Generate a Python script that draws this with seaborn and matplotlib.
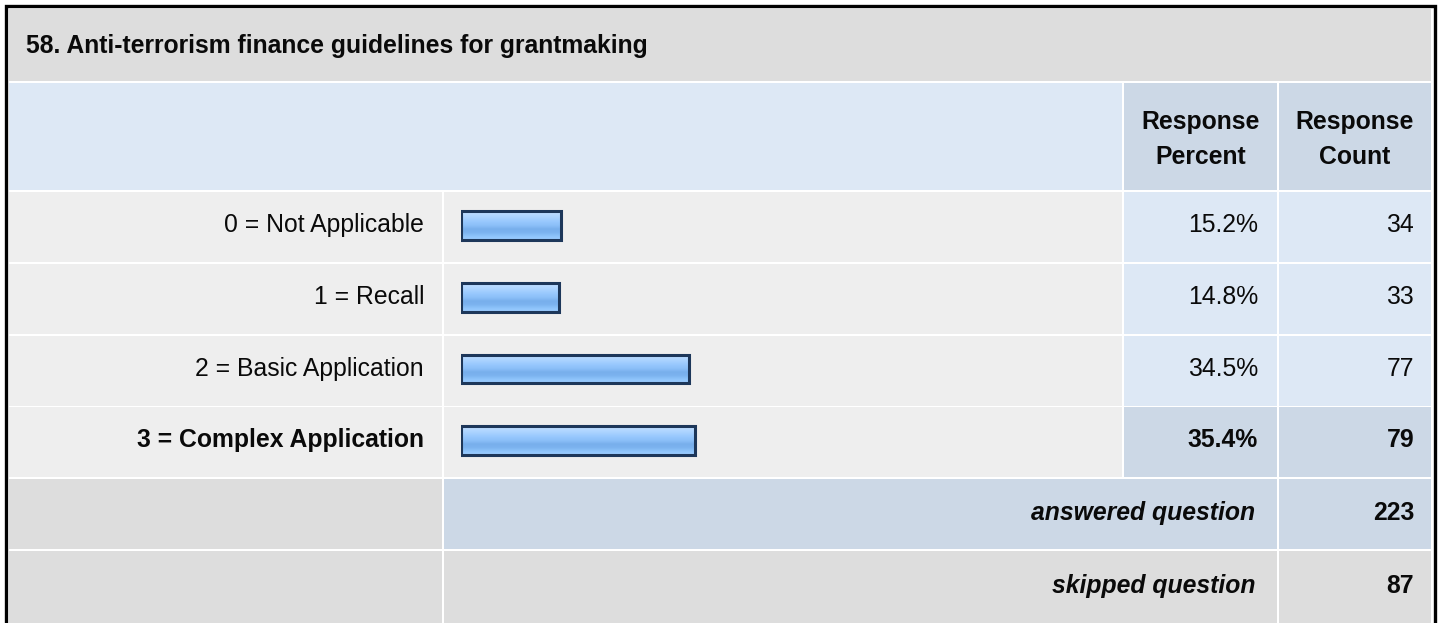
import numpy as np
import pandas as pd
import matplotlib
matplotlib.use("Agg")
import matplotlib.pyplot as plt
from matplotlib.patches import Rectangle
from matplotlib.colors import LinearSegmentedColormap
import seaborn as sns

# ---------------- data ----------------
title = "58. Anti-terrorism finance guidelines for grantmaking"
categories = ["0 = Not Applicable", "1 = Recall", "2 = Basic Application", "3 = Complex Application"]
percents = [15.2, 14.8, 34.5, 35.4]
counts = [34, 33, 77, 79]
header_cols = ["Response\nPercent", "Response\nCount"]
answered_label = "answered question"
answered_count = 223
skipped_label = "skipped question"
skipped_count = 87

sns.set_theme(style="white")
plt.rcParams["font.family"] = ["Liberation Sans", "DejaVu Sans"]

W, H = 1440, 623
fig = plt.figure(figsize=(W / 100, H / 100), dpi=100)
fig.patch.set_facecolor("white")

bg = fig.add_axes([0, 0, 1, 1])
bg.set_xlim(0, W)
bg.set_ylim(H, 0)
bg.axis("off")

FS = 17.8
TXT = "#0a0a0a"
C_TITLE = "#dddddd"
C_HEAD = "#dde8f5"
C_HEAD2 = "#ccd8e6"
C_ROW = "#eeeeee"
C_CELL = "#dde8f5"
C_SUM = "#ccd8e6"
C_GRAY = "#dddddd"

def cell(x0, x1, y0, y1, color):
    bg.add_patch(Rectangle((x0, y0), x1 - x0, y1 - y0, facecolor=color, edgecolor="none"))

# columns
cL = (9, 441.5)
cB = (444, 1122)
cP = (1124, 1277)
cC = (1279, 1431)

# outer border
bg.plot([5.5, 5.5, 1434.5, 1434.5], [H + 5, 5.5, 5.5, H + 5], color="black", lw=2.4,
        solid_joinstyle="miter", solid_capstyle="butt")

# title
cell(cL[0], cC[1], 9, 80.5, C_TITLE)
bg.text(26, 46, title, fontsize=FS, fontweight="bold", va="center", ha="left", color=TXT)

# header
cell(cL[0], cB[1], 83, 190, C_HEAD)
cell(cP[0], cP[1], 83, 190, C_HEAD2)
cell(cC[0], cC[1], 83, 190, C_HEAD2)
for (x0, x1), txt in zip([cP, cC], header_cols):
    bg.text((x0 + x1) / 2, 139.5, txt, fontsize=FS, fontweight="bold", ha="center", va="center",
            linespacing=1.6, color=TXT)

row_top = [192 + 71.8 * i for i in range(6)]
row_h = 70
best = int(np.argmax(percents))
for i, (cat, p, c) in enumerate(zip(categories, percents, counts)):
    y0 = row_top[i]
    y1 = y0 + row_h
    yc = (y0 + y1) / 2 - 2
    cell(cL[0], cL[1], y0, y1, C_ROW)
    cell(cB[0], cB[1], y0, y1, C_ROW)
    cc = C_SUM if i == best else C_CELL
    cell(cP[0], cP[1], y0, y1, cc)
    cell(cC[0], cC[1], y0, y1, cc)
    fw = "bold" if i == best else "normal"
    bg.text(424, yc, cat, fontsize=FS, fontweight=fw, ha="right", va="center", color=TXT)
    bg.text(1258, yc, f"{p:.1f}%", fontsize=FS, fontweight=fw, ha="right", va="center", color=TXT)
    bg.text(1414, yc, f"{c}", fontsize=FS, fontweight=fw, ha="right", va="center", color=TXT)

# answered row
y0 = row_top[4]; y1 = y0 + row_h; yc = (y0 + y1) / 2 - 1
cell(cL[0], cL[1], y0, y1, C_GRAY)
cell(cB[0], cP[1], y0, y1, C_SUM)
cell(cC[0], cC[1], y0, y1, C_SUM)
bg.text(1255, yc, answered_label, fontsize=FS, fontweight="bold", style="italic", ha="right", va="center", color=TXT)
bg.text(1414, yc, f"{answered_count}", fontsize=FS, fontweight="bold", ha="right", va="center", color=TXT)

# skipped row
y0 = row_top[5]; y1 = H + 5; yc = y0 + row_h / 2
cell(cL[0], cL[1], y0, y1, C_GRAY)
cell(cB[0], cP[1], y0, y1, C_GRAY)
cell(cC[0], cC[1], y0, y1, C_GRAY)
bg.text(1255, yc, skipped_label, fontsize=FS, fontweight="bold", style="italic", ha="right", va="center", color=TXT)
bg.text(1414, yc, f"{skipped_count}", fontsize=FS, fontweight="bold", ha="right", va="center", color=TXT)

# ---------------- bars ----------------
bar_left = 461
px_per_pct = 6.6
ax_w = 660
bar_top = row_top[0] - 2.5
ax = fig.add_axes([bar_left / W, (H - bar_top - 71.8 * 4) / H, ax_w / W, (71.8 * 4) / H])
ax.patch.set_alpha(0)
df = pd.DataFrame({"category": categories, "percent": percents})
sns.barplot(data=df, x="percent", y="category", orient="h", ax=ax, width=0.40,
            color="#92c3f7", edgecolor="#1d375a", linewidth=2.2, saturation=1)
ax.set_xlim(0, ax_w / px_per_pct)
ax.set_ylim(3.5, -0.5)
ax.axis("off")

# gradient from top (index 0) to bottom
grad_colors = ["#c4e0ff", "#b4d8ff", "#a6d0ff", "#96c7fd", "#8bbff8", "#78afec", "#7cb3ef", "#8ec4fb", "#9ccdff"]
grad_cmap = LinearSegmentedColormap.from_list("bar", grad_colors)
grad = np.linspace(0, 1, 64).reshape(-1, 1)
for patch in ax.patches:
    x0, y0 = patch.get_x(), patch.get_y()
    w, h = patch.get_width(), patch.get_height()
    # y axis is inverted: y0 is the visual top
    im = ax.imshow(grad, cmap=grad_cmap, aspect="auto", origin="upper",
                   extent=[x0, x0 + w, y0 + h, y0], zorder=0.5, interpolation="bilinear")
    im.set_clip_path(patch)
    patch.set_facecolor("none")
    patch.set_zorder(2)
ax.set_xlim(0, ax_w / px_per_pct)
ax.set_ylim(3.5, -0.5)

fig.savefig("out.png", dpi=100)
